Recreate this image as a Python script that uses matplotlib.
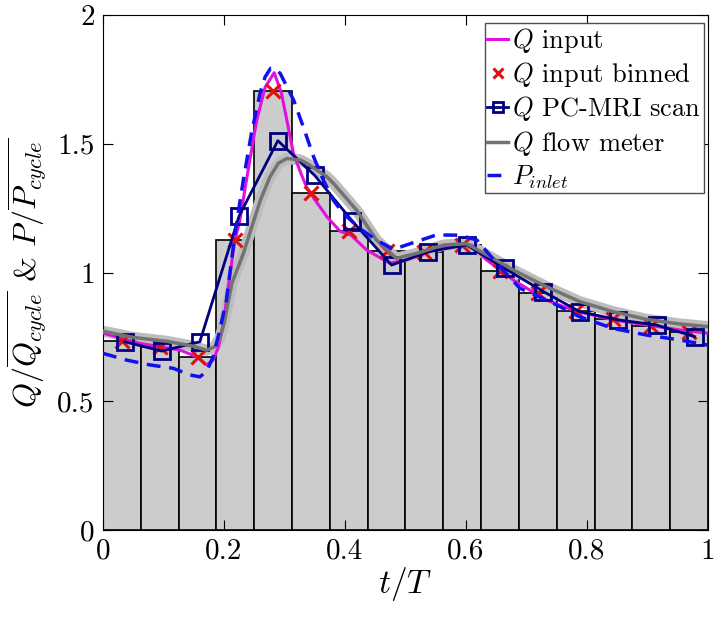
import matplotlib
matplotlib.use("Agg")
import matplotlib.pyplot as plt
import numpy as np
from matplotlib.ticker import FuncFormatter

plt.rcParams["font.family"] = "serif"
plt.rcParams["font.serif"] = ["cmr10", "DejaVu Serif"]
plt.rcParams["mathtext.fontset"] = "cm"
plt.rcParams["axes.unicode_minus"] = False

# binned input (bars + red crosses), 16 bins over one cycle
bin_edges = np.linspace(0, 1, 17)
binned = [0.735, 0.712, 0.672, 1.126, 1.705, 1.308, 1.160, 1.082,
          1.079, 1.107, 1.006, 0.919, 0.852, 0.821, 0.792, 0.769]

# PC-MRI scan
mri_t = [0.036, 0.097, 0.160, 0.225, 0.289, 0.350, 0.412, 0.477,
         0.538, 0.601, 0.664, 0.728, 0.788, 0.852, 0.915, 0.978]
mri_q = [0.731, 0.695, 0.731, 1.220, 1.512, 1.377, 1.200, 1.029,
         1.081, 1.107, 1.016, 0.926, 0.848, 0.816, 0.796, 0.751]

# Q input
in_t = [0.0, 0.06, 0.127, 0.155, 0.171, 0.182, 0.191, 0.199, 0.208, 0.218,
        0.226, 0.24, 0.254, 0.268, 0.283, 0.295, 0.304, 0.315, 0.328, 0.337,
        0.348, 0.37, 0.392, 0.41, 0.436, 0.474, 0.502, 0.546, 0.59, 0.61,
        0.634, 0.678, 0.733, 0.777, 0.843, 0.899, 0.954, 1.0]
in_q = [0.765, 0.725, 0.699, 0.673, 0.641, 0.66, 0.712, 0.803, 0.96, 1.126,
        1.20, 1.40, 1.59, 1.72, 1.776, 1.696, 1.59, 1.46, 1.38, 1.33,
        1.29, 1.217, 1.16, 1.145, 1.087, 1.036, 1.049, 1.087, 1.113, 1.105,
        1.049, 0.971, 0.893, 0.854, 0.816, 0.796, 0.777, 0.764]

# Q flow meter
fm_t = [0.0, 0.05, 0.105, 0.149, 0.171, 0.185, 0.193, 0.2, 0.213, 0.232,
        0.246, 0.26, 0.276, 0.29, 0.304, 0.326, 0.337, 0.37, 0.381, 0.419,
        0.452, 0.485, 0.518, 0.563, 0.601, 0.64, 0.678, 0.733, 0.788, 0.843,
        0.899, 0.954, 1.0]
fm_q = [0.772, 0.748, 0.733, 0.714, 0.698, 0.712, 0.745, 0.80, 0.958, 1.074,
        1.178, 1.28, 1.372, 1.425, 1.443, 1.437, 1.424, 1.372, 1.346, 1.243,
        1.126, 1.055, 1.074, 1.107, 1.112, 1.061, 1.01, 0.945, 0.887, 0.848,
        0.818, 0.80, 0.79]

# P inlet
p_t = [0.0, 0.039, 0.078, 0.116, 0.144, 0.16, 0.171, 0.182, 0.193, 0.204,
       0.218, 0.232, 0.246, 0.26, 0.268, 0.277, 0.285, 0.293, 0.315, 0.331,
       0.348, 0.364, 0.381, 0.397, 0.425, 0.452, 0.48, 0.518, 0.551, 0.59,
       0.618, 0.651, 0.689, 0.739, 0.788, 0.843, 0.899, 0.954, 1.0]
p_v = [0.686, 0.66, 0.641, 0.628, 0.602, 0.595, 0.615, 0.673, 0.777, 0.893,
       1.15, 1.36, 1.55, 1.70, 1.76, 1.793, 1.79, 1.773, 1.67, 1.566,
       1.45, 1.36, 1.28, 1.23, 1.17, 1.126, 1.09, 1.12, 1.146, 1.145,
       1.126, 1.036, 0.939, 0.887, 0.828, 0.783, 0.757, 0.738, 0.718]

fig = plt.figure(figsize=(7.18, 6.27), dpi=100)
ax = fig.add_axes([0.1435, 0.1547, 0.8425, 0.8213])

ax.bar(bin_edges[:-1], binned, width=1 / 16, align="edge",
       color=(0.8, 0.8, 0.8), edgecolor="black", linewidth=1.2, zorder=1)
centers = (bin_edges[:-1] + bin_edges[1:]) / 2

ax.plot(fm_t, fm_q, color=(0.74, 0.74, 0.74), lw=8, zorder=2,
        solid_capstyle="butt")
ax.plot(in_t, in_q, color="#e010e0", lw=2.2, zorder=3, label="$Q$ input")
ax.plot(centers, binned, "x", color="#e01010", ms=10, mew=2.2, zorder=4,
        label="$Q$ input binned")
ax.plot(mri_t, mri_q, "-s", color="#000080", lw=2, ms=11, mew=2,
        mfc="none", zorder=5, label="$Q$ PC-MRI scan")
ax.plot(fm_t, fm_q, color=(0.45, 0.45, 0.45), lw=2.5, zorder=5,
        label="$Q$ flow meter")
ax.plot(p_t, p_v, "--", color="#1010f0", lw=2.5, dashes=(4, 2.5), zorder=6,
        label="$P_{inlet}$")

ax.set_xlim(0, 1)
ax.set_ylim(0, 2)
ax.set_xticks([0, 0.2, 0.4, 0.6, 0.8, 1])
ax.set_yticks([0, 0.5, 1, 1.5, 2])
fmt = FuncFormatter(lambda v, p: f"{v:g}")
ax.xaxis.set_major_formatter(fmt)
ax.yaxis.set_major_formatter(fmt)
ax.tick_params(direction="in", top=True, right=True, length=7,
               labelsize=21, width=0.8, pad=6)
for s in ax.spines.values():
    s.set_linewidth(0.8)

ax.set_xlabel("$t/T$", fontsize=24, labelpad=0)
ax.set_ylabel(r"$Q/\overline{Q_{cycle}}$ & $P/\overline{P_{cycle}}$",
              fontsize=23, labelpad=6)

ax.legend(loc="upper right", bbox_to_anchor=(0.993, 0.984), borderaxespad=0,
          fontsize=19, handlelength=0.8, handletextpad=0.15, labelspacing=0.2,
          borderpad=0.1, fancybox=False, edgecolor=(0.3, 0.3, 0.3),
          framealpha=1, markerscale=0.7)

fig.savefig("out.png", dpi=100)
